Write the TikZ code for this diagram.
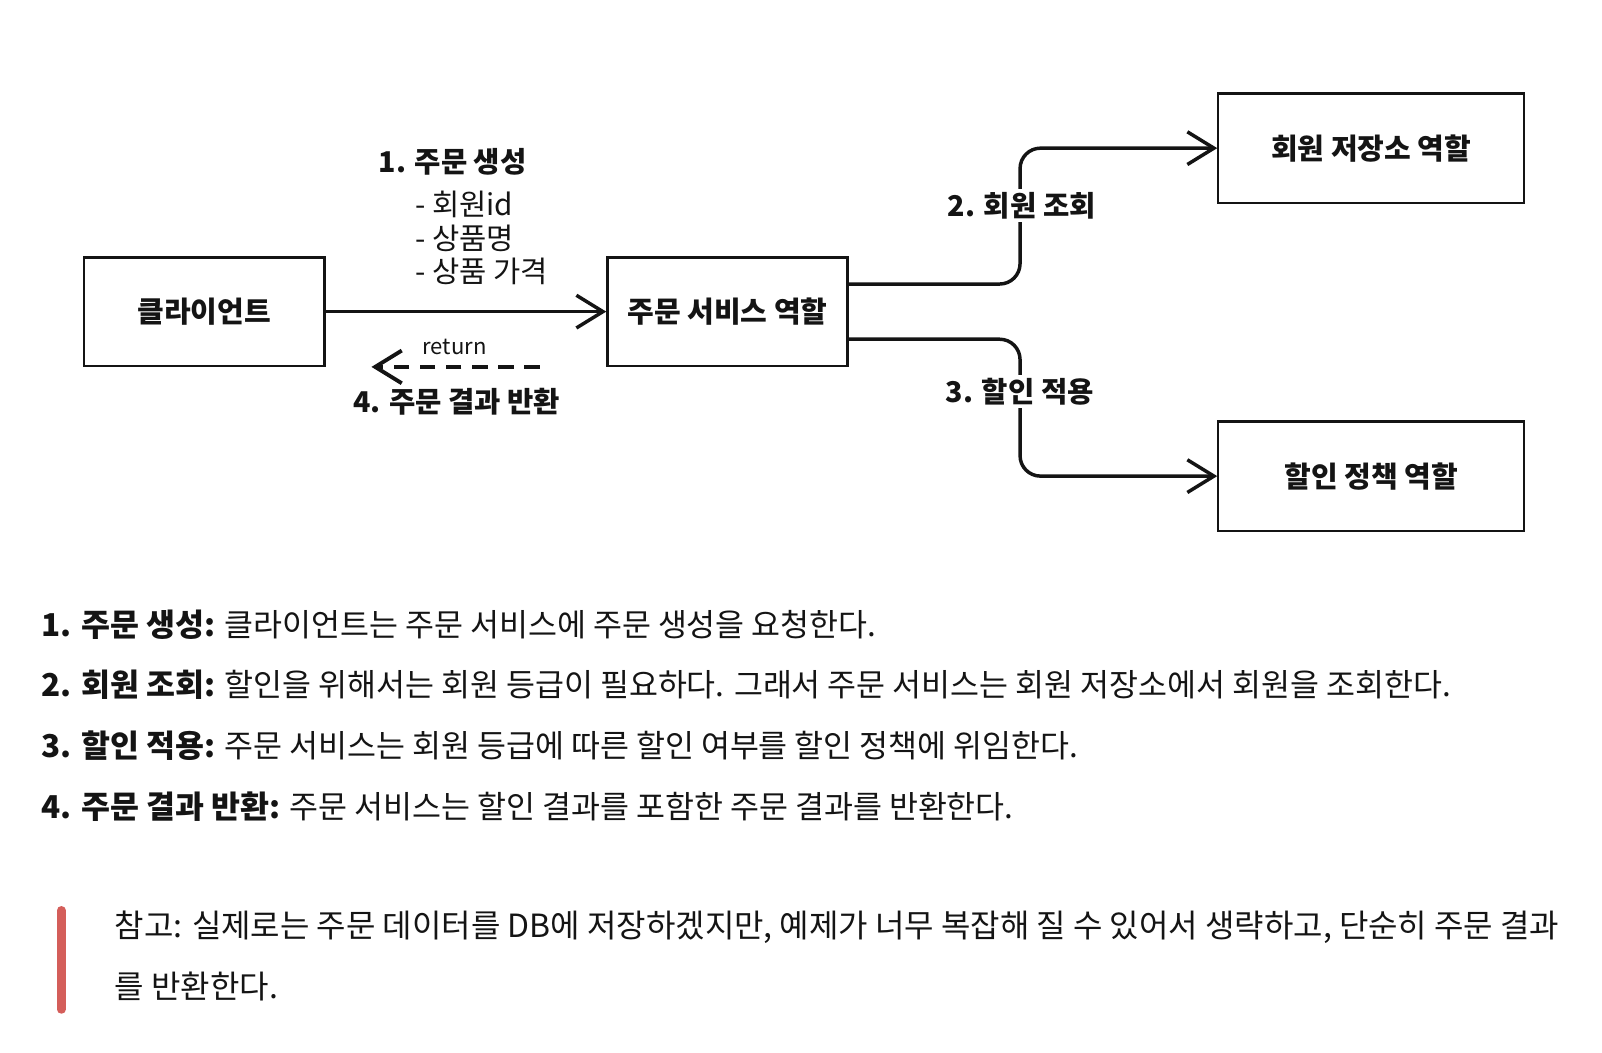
\documentclass[tikz,border=0pt]{standalone}
\usepackage{fontspec}
\setmainfont{Noto Sans CJK KR}
\usepackage{xcolor}
\usetikzlibrary{arrows.meta}
\definecolor{notered}{RGB}{212,94,90}
\definecolor{ink}{RGB}{20,20,20}

\begin{document}
\begin{tikzpicture}[x=0.5pt, y=-0.5pt, color=ink,
	role/.style={draw, line width=1.1pt, minimum width=117.5pt, minimum height=53pt, inner sep=0pt, font=\bfseries\fontsize{14.2}{16}\selectfont},
	wide/.style={role, minimum width=149.5pt, minimum height=53.5pt},
	flow/.style={line width=1.7pt, -{Straight Barb[length=13pt, width=16pt]}},
	lbl/.style={inner sep=1.5pt, font=\bfseries\fontsize{14}{16}\selectfont},
	body/.style={anchor=west, inner sep=0pt, font=\fontsize{15.4}{18}\selectfont}]
	\useasboundingbox (0,0) rectangle (1568,1030);

	% roles
	\node[role] (client) at (200,305)  {클라이언트};
	\node[role] (order)  at (712,305)  {주문 서비스 역할};
	\node[wide] (member) at (1342,145) {회원 저장소 역할};
	\node[wide] (disc)   at (1342,466) {할인 정책 역할};

	% calls
	\draw[flow] (client) -- (order);
	\draw[flow, rounded corners=10pt] ([yshift=13.5pt]order.east) -| ([xshift=-96.5pt]member.west) -- (member.west);
	\draw[flow, rounded corners=10pt] ([yshift=-13.5pt]order.east) -| ([xshift=-96.5pt]disc.west) -- (disc.west);

	% return
	\coordinate (retA) at ([xshift=-32.5pt]order.south west);
	\coordinate (retB) at ([xshift=22.5pt]client.south east);
	\draw[flow, line width=1.9pt, dash pattern=on 7.6pt off 5.2pt] (retA) -- (retB);

	% labels
	\node[lbl] (l1) at (443,158) {1. 주문 생성};
	\node[anchor=west, align=left, inner sep=0pt, font=\fontsize{14.5}{16.5}\selectfont] (args) at (406,233) {- 회원id\\- 상품명\\- 상품 가격};
	\node[lbl, fill=white] (l2) at (1000,201) {2. 회원 조회};
	\node[lbl, fill=white] (l3) at (998,383) {3. 할인 적용};
	\node[inner sep=0pt, font=\fontsize{10.8}{12}\selectfont] (ret) at (445,340) {return};
	\node[lbl] (l4) at (447,393) {4. 주문 결과 반환};

	% steps
	\node[body] (s1) at (40,611) {\textbf{1. 주문 생성:} 클라이언트는 주문 서비스에 주문 생성을 요청한다.};
	\node[body] (s2) at (40,670) {\textbf{2. 회원 조회:} 할인을 위해서는 회원 등급이 필요하다. 그래서 주문 서비스는 회원 저장소에서 회원을 조회한다.};
	\node[body] (s3) at (40,730) {\textbf{3. 할인 적용:} 주문 서비스는 회원 등급에 따른 할인 여부를 할인 정책에 위임한다.};
	\node[body] (s4) at (40,790) {\textbf{4. 주문 결과 반환:} 주문 서비스는 할인 결과를 포함한 주문 결과를 반환한다.};

	% note
	\draw[notered, line width=4.2pt, line cap=round] (60,891) -- (60,988);
	\node[body, font=\fontsize{15.65}{18}\selectfont] (n1) at (112,908) {참고: 실제로는 주문 데이터를 DB에 저장하겠지만, 예제가 너무 복잡해 질 수 있어서 생략하고, 단순히 주문 결과};
	\node[body, font=\fontsize{15.65}{18}\selectfont] (n2) at (112,966) {를 반환한다.};
\end{tikzpicture}
\end{document}
